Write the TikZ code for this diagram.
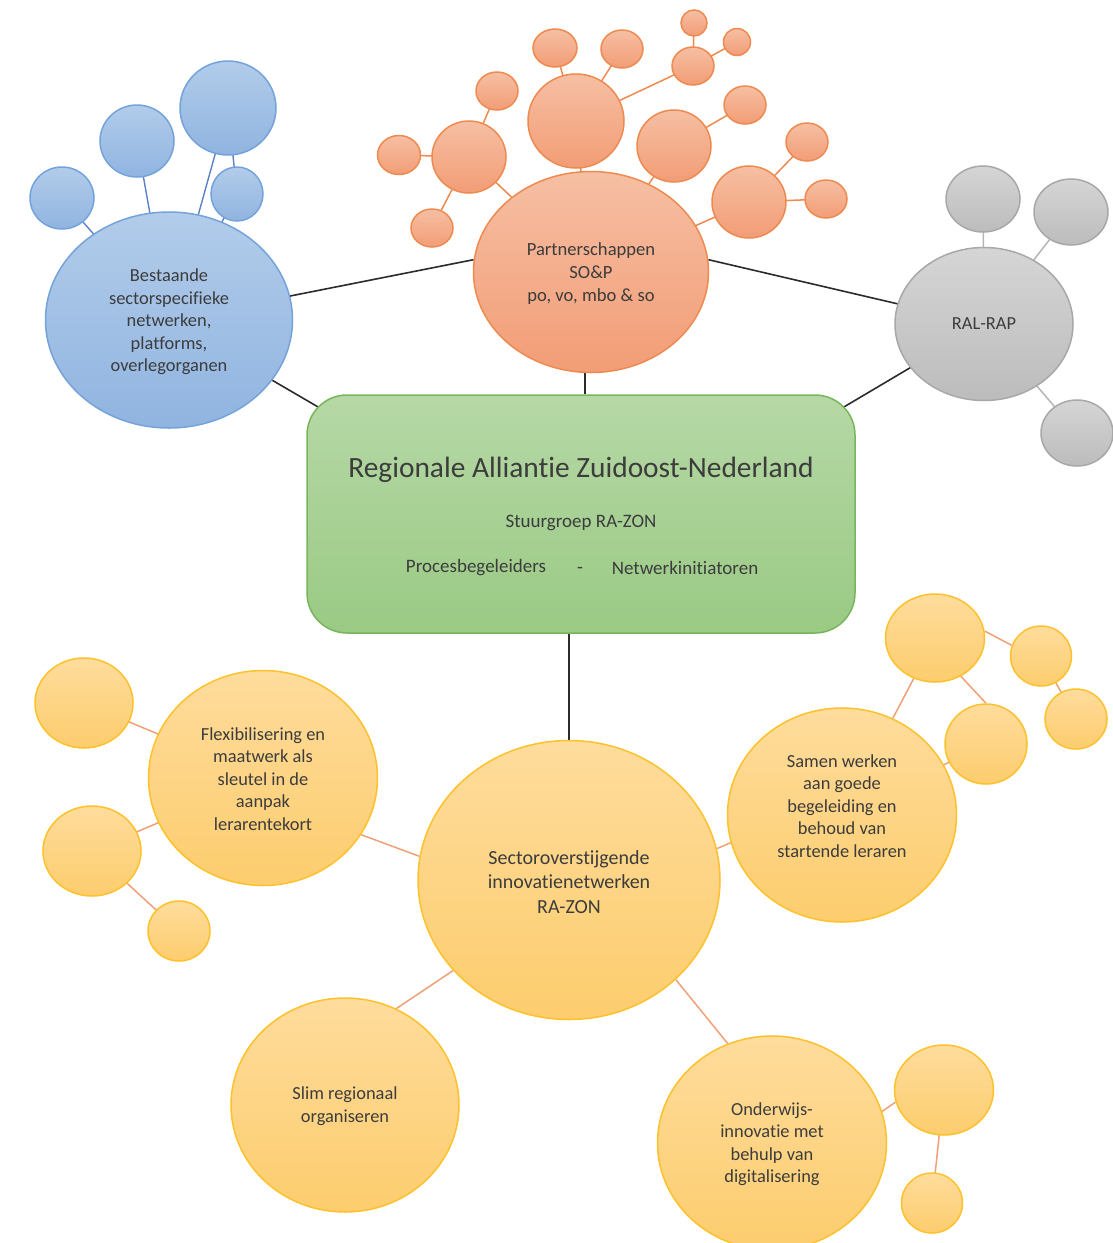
\documentclass[tikz,border=0pt]{standalone}
\usepackage{fontspec}
\setmainfont{Carlito}[Ligatures=NoCommon]
\usetikzlibrary{shapes.geometric,backgrounds}
\definecolor{txt}{HTML}{3C3C3C}
\definecolor{bluetop}{HTML}{B2CCEA}
\definecolor{bluebot}{HTML}{90B4E0}
\definecolor{bluebd}{HTML}{74A3DB}
\definecolor{blueln}{HTML}{5C80C8}
\definecolor{ortop}{HTML}{F6BFA3}
\definecolor{orbot}{HTML}{F29D76}
\definecolor{orbd}{HTML}{EE8A4F}
\definecolor{grtop}{HTML}{D5D5D5}
\definecolor{grbot}{HTML}{BCBCBC}
\definecolor{grbd}{HTML}{A8A8A8}
\definecolor{grln}{HTML}{B5B5B5}
\definecolor{gntop}{HTML}{B6D8A6}
\definecolor{gnbot}{HTML}{9ACA84}
\definecolor{gnbd}{HTML}{78B65B}
\definecolor{yetop}{HTML}{FEDC9C}
\definecolor{yebot}{HTML}{FDCD6E}
\definecolor{yebd}{HTML}{FDC12B}
\definecolor{yeln}{HTML}{F0A077}
\definecolor{blk}{HTML}{2B2B2B}
\tikzset{
  ell/.style 2 args={minimum width=#1pt, minimum height=#2pt},
  bub/.style={ellipse, inner sep=0pt, line width=0.75pt, align=center, text=txt,
    font=\fontsize{9.2}{11.25}\selectfont},
  bluebub/.style={bub, draw=bluebd, top color=bluetop, bottom color=bluebot},
  orbub/.style={bub, draw=orbd, top color=ortop, bottom color=orbot},
  grbub/.style={bub, draw=grbd, top color=grtop, bottom color=grbot},
  yebub/.style={bub, draw=yebd, top color=yetop, bottom color=yebot},
  greenbox/.style={rectangle, rounded corners=20pt, draw=gnbd, line width=0.75pt,
    top color=gntop, bottom color=gnbot, minimum width=274pt, minimum height=119pt},
  lbl/.style={text=txt, inner sep=0pt},
  blkln/.style={draw=blk, line width=0.8pt},
  bln/.style={draw=blueln, line width=0.7pt},
  orln/.style={draw=orbd, line width=0.75pt},
  grlnst/.style={draw=grln, line width=0.75pt},
  yeln/.style={draw=yeln, line width=0.75pt},
}
\begin{document}
\begin{tikzpicture}[x=0.5pt,y=-0.5pt]
\useasboundingbox (0,0) rectangle (1113,1243);

% blue cluster
\node[bluebub, ell={123.5}{108}] (bmain) at (169,320) {};
\node[lbl, align=center, font=\fontsize{9.2}{11.25}\selectfont] (btxt) at (169,322) {Bestaande\\sectorspecifieke\\netwerken,\\platforms,\\overlegorganen};
\node[bluebub, ell={32}{31}] (b1) at (62,198) {};
\node[bluebub, ell={37}{36}] (b2) at (137,141) {};
\node[bluebub, ell={48}{47}] (b3) at (228,108) {};
\node[bluebub, ell={26}{27}] (b4) at (237,194) {};

% orange cluster
\node[orbub, ell={117.5}{100.5}] (omain) at (591,272) {};
\node[lbl, align=center, font=\fontsize{9.3}{11.5}\selectfont] (otxt) at (591,274) {Partnerschappen\\SO\&P\\po, vo, mbo \& so};
\node[orbub, ell={37}{36}] (o1) at (469,157) {};
\node[orbub, ell={21.5}{19.5}] (o1a) at (399,155) {};
\node[orbub, ell={21}{19}] (o1b) at (497,91) {};
\node[orbub, ell={21}{19}] (o1c) at (432,228) {};
\node[orbub, ell={48}{47}] (o2) at (576,121) {};
\node[orbub, ell={22}{19}] (o2a) at (555,48) {};
\node[orbub, ell={21}{19}] (o2b) at (622,49) {};
\node[orbub, ell={21}{19}] (o3) at (693,66) {};
\node[orbub, ell={13}{13}] (o3a) at (694,23) {};
\node[orbub, ell={13.5}{13.5}] (o3b) at (737,42) {};
\node[orbub, ell={37}{36}] (o4) at (674,146) {};
\node[orbub, ell={21}{19}] (o4a) at (745,105) {};
\node[orbub, ell={37}{36}] (o5) at (749,202) {};
\node[orbub, ell={21}{19}] (o5a) at (807,142) {};
\node[orbub, ell={21}{19}] (o5b) at (826,199) {};

% gray cluster
\node[grbub, ell={89}{76.5}] (gmain) at (984,324) {RAL-RAP};
\node[grbub, ell={37}{33}] (g1) at (983,199) {};
\node[grbub, ell={37}{33}] (g2) at (1071,212) {};
\node[grbub, ell={36}{33}] (g3) at (1077,433) {};

% green box
\node[greenbox] (box) at (581,514) {};
\node[lbl, font=\fontsize{14.7}{16}\selectfont] (title) at (581,470) {Regionale Alliantie Zuidoost-Nederland};
\node[lbl, font=\fontsize{9.5}{11}\selectfont] (stuur) at (581,523) {Stuurgroep RA-ZON};
\node[lbl, font=\fontsize{9.5}{11}\selectfont] (proc) at (476,568) {Procesbegeleiders};
\node[lbl, font=\fontsize{9.5}{11}\selectfont] (dash) at (580,570) {-};
\node[lbl, font=\fontsize{9.5}{11}\selectfont] (netw) at (685,568) {Netwerkinitiatoren};

% yellow cluster
\node[yebub, ell={151}{139.5}] (ymain) at (569,880) {};
\node[lbl, align=center, font=\fontsize{10}{12.25}\selectfont] (ytxt) at (569,882) {Sectoroverstijgende\\innovatienetwerken\\RA-ZON};
\node[yebub, ell={114.5}{107.5}] (flex) at (263,778) {};
\node[lbl, align=center, font=\fontsize{9.2}{11.25}\selectfont] (flextxt) at (263,779) {Flexibilisering en\\maatwerk als\\sleutel in de\\aanpak\\lerarentekort};
\node[yebub, ell={49}{45}] (fa) at (84,703) {};
\node[yebub, ell={49}{45}] (fb) at (92,851) {};
\node[yebub, ell={31}{30}] (fc) at (179,931) {};
\node[yebub, ell={114}{107}] (slim) at (345,1105) {};
\node[lbl, align=center, font=\fontsize{9.2}{11.25}\selectfont] (slimtxt) at (345,1106) {Slim regionaal\\organiseren};
\node[yebub, ell={114.5}{107}] (samen) at (842,815) {};
\node[lbl, align=center, font=\fontsize{9.2}{11.25}\selectfont] (samtxt) at (842,806) {Samen werken\\aan goede\\begeleiding en\\behoud van\\startende leraren};
\node[yebub, ell={49.5}{44}] (sa) at (935,638) {};
\node[yebub, ell={30.5}{30}] (sb) at (1041,656) {};
\node[yebub, ell={41}{40}] (sc) at (986,744) {};
\node[yebub, ell={31}{30}] (sd) at (1076,719) {};
\node[yebub, ell={114.5}{107}] (ond) at (772,1143) {};
\node[lbl, align=center, font=\fontsize{9.2}{11.25}\selectfont] (ondtxt) at (772,1144) {Onderwijs-\\innovatie met\\behulp van\\digitalisering};
\node[yebub, ell={49.5}{45}] (oa) at (944,1090) {};
\node[yebub, ell={30.5}{30}] (ob) at (932,1203) {};

\begin{pgfonlayer}{background}
% black connectors
\draw[blkln] (bmain.center) -- (omain.174);
\draw[blkln] (omain.6) -- (gmain.center);
\draw[blkln] (bmain.center) -- ([shift={(14,14)}]box.north west);
\draw[blkln] ([xshift=2pt]box.north) -- ([xshift=2pt]box.north |- omain.center);
\draw[blkln] (gmain.center) -- ([shift={(-14,14)}]box.north east);
\draw[blkln] (ymain.center) -- (ymain.center |- box.center);
% blue
\draw[bln] (b1.center) -- (bmain.center);
\draw[bln] (b2.center) -- (bmain.center);
\draw[bln] (b3.center) -- (bmain.center);
\draw[bln] (b3.center) -- (b4.center);
\draw[bln] (b4.center) -- (bmain.center);
% orange
\draw[orln] (o1a.center) -- (o1.center);
\draw[orln] (o1b.center) -- (o1.center);
\draw[orln] (o1c.center) -- (o1.center);
\draw[orln] (o1.center) -- (omain.center);
\draw[orln] (o2a.center) -- (o2.center);
\draw[orln] (o2b.center) -- (o2.center);
\draw[orln] (o2.center) -- (omain.center);
\draw[orln] (o2.center) -- (o3.center);
\draw[orln] (o3a.center) -- (o3.center);
\draw[orln] (o3b.center) -- (o3.center);
\draw[orln] (o4a.center) -- (o4.center);
\draw[orln] (o4.center) -- (omain.center);
\draw[orln] (o5a.center) -- (o5.center);
\draw[orln] (o5b.center) -- (o5.center);
\draw[orln] (o5.center) -- (omain.center);
% gray
\draw[grlnst] (g1.center) -- (gmain.center);
\draw[grlnst] (g2.center) -- (gmain.center);
\draw[grlnst] (g3.center) -- (gmain.center);
% yellow
\draw[yeln] (flex.-30) -- (ymain.171);
\draw[yeln] (fa.center) -- (flex.center);
\draw[yeln] (fb.center) -- (flex.center);
\draw[yeln] (fb.center) -- (fc.center);
\draw[yeln] (slim.62) -- (ymain.218);
\draw[yeln] (ymain.12) -- (samen.194);
\draw[yeln] (sa.center) -- (samen.center);
\draw[yeln] (sa.8) -- (sb.160);
\draw[yeln] (sa.-56) -- (sc.north);
\draw[yeln] (sc.center) -- (samen.center);
\draw[yeln] (sb.center) -- (sd.center);
\draw[yeln] (ymain.-43) -- (ond.114);
\draw[yeln] (ond.16) -- (oa.194);
\draw[yeln] (oa.center) -- (ob.center);
\end{pgfonlayer}
\end{tikzpicture}
\end{document}
